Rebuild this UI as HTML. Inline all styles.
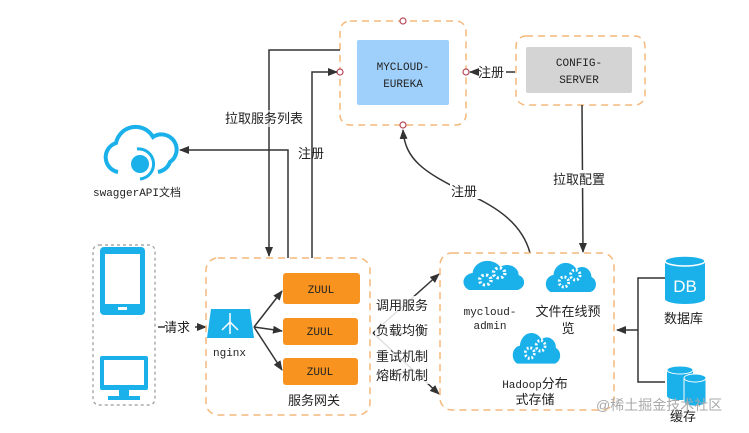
<!DOCTYPE html>
<html><head><meta charset="utf-8"><style>
body{margin:0;background:#fff;width:749px;height:428px;overflow:hidden}
text{font-family:"Liberation Sans","Noto Sans CJK SC",sans-serif;font-size:13px;fill:#222}
.m{font-family:"Liberation Mono","Noto Sans CJK SC",monospace;font-size:11px}
</style></head><body>
<svg width="749" height="428" viewBox="0 0 749 428" xmlns="http://www.w3.org/2000/svg">
<defs>
<marker id="a" markerWidth="10" markerHeight="8" refX="9" refY="4" orient="auto" markerUnits="userSpaceOnUse"><path d="M0,0L10,4L0,8z" fill="#333"/></marker>
<g id="cloud"><path d="M8,32 a9,9 0 0 1 3,-17 a13,13 0 0 1 24,-6 a10,10 0 0 1 16,8 a8,8 0 0 1 -1,15z" fill="#1ab0ea"/>
<circle cx="22" cy="22" r="5" fill="none" stroke="#fff" stroke-width="3" stroke-dasharray="2 2"/><circle cx="34" cy="15" r="5" fill="none" stroke="#fff" stroke-width="3" stroke-dasharray="2 2"/></g>
</defs>
<!-- Eureka -->
<rect x="340" y="21" width="126" height="104" rx="10" fill="none" stroke="#f4b87a" stroke-width="1.5" stroke-dasharray="7 5"/>
<rect x="357" y="40" width="92" height="65" rx="2" fill="#9fd0fc"/>
<text class="m" x="403" y="70" text-anchor="middle">MYCLOUD-</text>
<text class="m" x="403" y="87" text-anchor="middle">EUREKA</text>
<g fill="#fff" stroke="#b5485a" stroke-width="1.2"><circle cx="403" cy="21" r="3"/><circle cx="340" cy="72" r="3"/><circle cx="466" cy="72" r="3"/><circle cx="403" cy="125" r="3"/></g>
<!-- Config -->
<rect x="516" y="36" width="129" height="69" rx="10" fill="none" stroke="#f4b87a" stroke-width="1.5" stroke-dasharray="7 5"/>
<rect x="526" y="47" width="106" height="46" rx="2" fill="#d4d4d4"/>
<text class="m" x="579" y="66" text-anchor="middle">CONFIG-</text>
<text class="m" x="579" y="83" text-anchor="middle">SERVER</text>
<line x1="515" y1="72" x2="506" y2="72" stroke="#333" stroke-width="1.5"/>
<line x1="478" y1="72" x2="470" y2="72" stroke="#333" stroke-width="1.5" marker-end="url(#a)"/>
<text x="478" y="77">注册</text>
<!-- config to services -->
<line x1="582" y1="105" x2="583" y2="252" stroke="#333" stroke-width="1.5" marker-end="url(#a)"/>
<rect x="552" y="170" width="60" height="18" fill="#fff"/><text x="553" y="184">拉取配置</text>
<!-- curve -->
<path d="M530,253 C520,215 480,200 460,190 C425,172 405,160 403,130" fill="none" stroke="#333" stroke-width="1.5" marker-end="url(#a)"/>
<rect x="450" y="183" width="32" height="16" fill="#fff"/><text x="451" y="196">注册</text>
<!-- left lines -->
<polyline points="340,50 269,50 269,256" fill="none" stroke="#333" stroke-width="1.5" marker-end="url(#a)"/>
<polyline points="312,258 312,72 337,72" fill="none" stroke="#333" stroke-width="1.5" marker-end="url(#a)"/>
<polyline points="288,258 288,150 180,150" fill="none" stroke="#333" stroke-width="1.5" marker-end="url(#a)"/>
<rect x="224" y="110" width="86" height="17" fill="#fff" opacity="0.6"/><text x="225" y="123">拉取服务列表</text>
<text x="298" y="158">注册</text>
<!-- swagger -->
<path d="M118,172 a15,15 0 0 1 -2,-29 a20,20 0 0 1 37,-6 a14,14 0 0 1 17,25 q-3,8 -12,10" fill="none" stroke="#1ab0ea" stroke-width="4"/>
<circle cx="140" cy="164" r="9" fill="#1ab0ea"/><path d="M137,149 a14,14 0 0 1 3,30" fill="none" stroke="#1ab0ea" stroke-width="3"/>
<text class="m" x="93" y="196">swaggerAPI文档</text>
<!-- devices -->
<rect x="93" y="245" width="62" height="160" rx="6" fill="none" stroke="#999" stroke-width="1.2" stroke-dasharray="3 3"/>
<rect x="100" y="247" width="45" height="68" rx="4" fill="#1ab0ea"/><rect x="105" y="254" width="35" height="50" fill="#fff"/><rect x="118" y="307" width="9" height="3" fill="#fff"/>
<rect x="100" y="356" width="48" height="34" rx="2" fill="#1ab0ea"/><rect x="104" y="360" width="40" height="25" fill="#fff"/><rect x="119" y="390" width="10" height="6" fill="#1ab0ea"/><rect x="108" y="396" width="32" height="4" fill="#1ab0ea"/>
<line x1="158" y1="327" x2="206" y2="327" stroke="#333" stroke-width="1.5" marker-end="url(#a)"/>
<rect x="165" y="318" width="30" height="18" fill="#fff"/><text x="164" y="332">请求</text>
<!-- gateway -->
<rect x="206" y="258" width="164" height="157" rx="12" fill="none" stroke="#f4b87a" stroke-width="1.5" stroke-dasharray="7 5"/>
<path d="M211,309 L250,309 L254,338 L207,338z" fill="#1ab0ea"/>
<g stroke="#fff" stroke-width="1.5" fill="none"><line x1="230" y1="313" x2="230" y2="334"/><line x1="230" y1="322" x2="222" y2="330"/><line x1="230" y1="322" x2="238" y2="330"/></g>
<text class="m" x="213" y="356">nginx</text>
<g stroke="#333" stroke-width="1.5" fill="none"><line x1="254" y1="327" x2="282" y2="291" marker-end="url(#a)"/><line x1="254" y1="327" x2="282" y2="331" marker-end="url(#a)"/><line x1="254" y1="327" x2="282" y2="370" marker-end="url(#a)"/></g>
<g fill="#f7931e"><rect x="283" y="273" width="77" height="31" rx="3"/><rect x="283" y="318" width="75" height="27" rx="3"/><rect x="283" y="358" width="75" height="27" rx="3"/></g>
<text class="m" x="321" y="293" text-anchor="middle">ZUUL</text><text class="m" x="320" y="335" text-anchor="middle">ZUUL</text><text class="m" x="320" y="375" text-anchor="middle">ZUUL</text>
<text x="288" y="405">服务网关</text>
<!-- gateway->services -->
<g stroke="#333" stroke-width="1.5" fill="none"><line x1="373" y1="333" x2="439" y2="274" marker-end="url(#a)"/><line x1="373" y1="333" x2="439" y2="394" marker-end="url(#a)"/></g>
<rect x="375" y="296" width="60" height="88" fill="#fff" opacity="0.85"/>
<text x="376" y="310">调用服务</text><text x="376" y="335">负载均衡</text><text x="376" y="361">重试机制</text><text x="376" y="380">熔断机制</text>
<!-- services -->
<rect x="440" y="253" width="174" height="157" rx="12" fill="none" stroke="#f4b87a" stroke-width="1.5" stroke-dasharray="7 5"/>
<use href="#cloud" transform="translate(460,258) scale(1.15,1)"/>
<use href="#cloud" transform="translate(543,260) scale(0.95,1)"/>
<use href="#cloud" transform="translate(510,330) scale(0.9,1.05)"/>
<text class="m" x="490" y="315" text-anchor="middle">mycloud-</text><text class="m" x="490" y="329" text-anchor="middle">admin</text>
<text x="568" y="316" text-anchor="middle">文件在线预</text><text x="568" y="333" text-anchor="middle">览</text>
<text x="535" y="388" text-anchor="middle"><tspan class="m">Hadoop</tspan>分布</text><text x="535" y="404" text-anchor="middle">式存储</text>
<!-- db -->
<polyline points="665,278 638,278 638,382 665,382" fill="none" stroke="#333" stroke-width="1.5"/>
<line x1="638" y1="330" x2="617" y2="330" stroke="#333" stroke-width="1.5" marker-end="url(#a)"/>
<path d="M665,261 v38 a20,5 0 0 0 40,0 v-38z" fill="#1ab0ea"/><ellipse cx="685" cy="261" rx="20" ry="5" fill="#1ab0ea" stroke="#fff" stroke-width="1.5"/>
<text x="685" y="292" text-anchor="middle" style="fill:#fff;font-size:17px">DB</text>
<text x="664" y="323">数据库</text>
<path d="M667,370 v26 a13,4 0 0 0 26,0 v-26z" fill="#1ab0ea"/><ellipse cx="680" cy="370" rx="13" ry="4" fill="#1ab0ea" stroke="#fff"/>
<path d="M684,378 v24 a11,4 0 0 0 22,0 v-24z" fill="#1ab0ea" stroke="#fff"/><ellipse cx="695" cy="378" rx="11" ry="4" fill="#1ab0ea" stroke="#fff"/>
<text x="670" y="421">缓存</text>
<text x="596" y="410" style="fill:#aaa;font-size:14px">@稀土掘金技术社区</text>
</svg>
</body></html>
